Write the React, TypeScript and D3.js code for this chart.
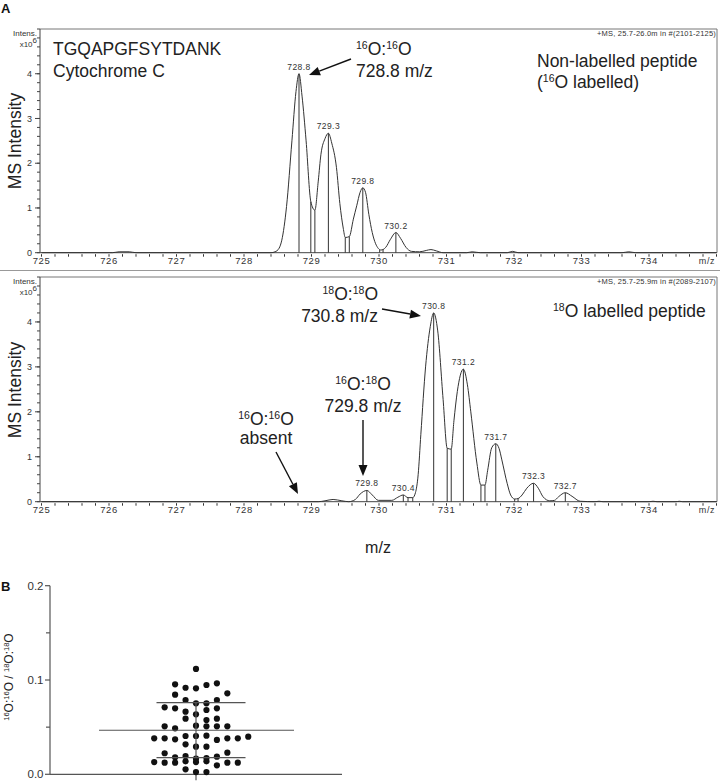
import React from 'react';
import * as d3 from 'd3';

// ---------------- DATA ----------------
const mzTicks = [725, 726, 727, 728, 729, 730, 731, 732, 733, 734];
const intensityTicks = [0, 1, 2, 3, 4];

// Top spectrum: non-labelled peptide (m/z, intensity x10^6)
const topProfileMz = [725.0, 726.05, 726.15, 726.3, 726.4, 728.4, 728.46, 728.52, 728.56, 728.63, 728.71, 728.77, 728.815, 728.86, 728.92, 728.99, 729.05, 729.1, 729.14, 729.2, 729.25, 729.3, 729.37, 729.42, 729.47, 729.5, 729.56, 729.62, 729.67, 729.72, 729.76, 729.8, 729.85, 729.9, 729.95, 730.03, 730.1, 730.17, 730.25, 730.32, 730.4, 730.48, 730.6, 730.7, 730.77, 730.85, 730.95, 731.3, 731.38, 731.5, 731.9, 731.98, 732.06, 733.6, 733.7, 733.8, 735.0];
const topProfileInt = [0, 0, 0.02, 0.02, 0, 0, 0.02, 0.1, 0.28, 1.03, 2.5, 3.6, 4.0, 3.5, 2.5, 1.14, 0.95, 1.6, 2.2, 2.55, 2.67, 2.45, 1.9, 1.1, 0.55, 0.34, 0.36, 0.75, 1.05, 1.35, 1.45, 1.35, 0.85, 0.45, 0.2, 0.06, 0.12, 0.3, 0.45, 0.32, 0.12, 0.03, 0.02, 0.05, 0.07, 0.04, 0, 0, 0.02, 0, 0, 0.03, 0, 0, 0.02, 0, 0];
const topStickMz = [728.815, 728.99, 729.05, 729.25, 729.5, 729.56, 729.76, 730.01, 730.06, 730.25];
const topStickInt = [4.0, 1.14, 0.95, 2.67, 0.34, 0.36, 1.45, 0.06, 0.08, 0.45];
const topPeakMz = [728.815, 729.25, 729.76, 730.25];
const topPeakInt = [4.0, 2.67, 1.45, 0.45];
const topPeakText = ['728.8', '729.3', '729.8', '730.2'];

// Bottom spectrum: 18O labelled peptide
const botProfileMz = [725, 729.1, 729.2, 729.32, 729.45, 729.55, 729.65, 729.72, 729.82, 729.9, 729.99, 730.19, 730.28, 730.36, 730.43, 730.5, 730.54, 730.58, 730.62, 730.69, 730.76, 730.81, 730.87, 730.95, 731.01, 731.07, 731.11, 731.16, 731.25, 731.31, 731.36, 731.45, 731.51, 731.57, 731.61, 731.67, 731.73, 731.78, 731.82, 731.9, 731.95, 732.01, 732.06, 732.12, 732.19, 732.29, 732.36, 732.43, 732.53, 732.6, 732.66, 732.76, 732.86, 732.98, 733.2, 733.26, 733.32, 734.0, 734.06, 734.12, 734.4, 734.45, 734.5, 735];
const botProfileInt = [0, 0, 0.02, 0.05, 0.02, 0, 0.05, 0.17, 0.25, 0.15, 0.03, 0.03, 0.1, 0.15, 0.09, 0.09, 0.2, 0.6, 1.5, 3.0, 3.9, 4.2, 3.8, 2.27, 1.19, 1.17, 1.8, 2.45, 2.95, 2.6, 2.0, 0.86, 0.37, 0.37, 0.7, 1.2, 1.29, 1.18, 0.93, 0.4, 0.15, 0.06, 0.07, 0.15, 0.3, 0.41, 0.3, 0.11, 0.02, 0.03, 0.11, 0.2, 0.12, 0.01, 0, 0.01, 0, 0, 0.01, 0, 0, 0.01, 0, 0];
const botStickMz = [729.82, 730.36, 730.43, 730.5, 730.81, 731.01, 731.07, 731.25, 731.51, 731.57, 731.73, 732.01, 732.06, 732.29, 732.76];
const botStickInt = [0.25, 0.15, 0.09, 0.09, 4.2, 1.19, 1.17, 2.95, 0.37, 0.37, 1.29, 0.06, 0.07, 0.41, 0.2];
const botPeakMz = [729.82, 730.36, 730.81, 731.25, 731.73, 732.29, 732.76];
const botPeakInt = [0.25, 0.15, 4.2, 2.95, 1.29, 0.41, 0.2];
const botPeakText = ['729.8', '730.4', '730.8', '731.2', '731.7', '732.3', '732.7'];

// Panel B: 16O:16O / 18O:18O ratios (value, swarm column)
const ratioValues = [0.1117, 0.0954, 0.0918, 0.0912, 0.0947, 0.0965, 0.0844, 0.0859, 0.0788, 0.0753, 0.0753, 0.0788, 0.0710, 0.0700, 0.0664, 0.0682, 0.0700, 0.0590, 0.0636, 0.0576, 0.0590, 0.0509, 0.0488, 0.0516, 0.0509, 0.0509, 0.0509, 0.0382, 0.0382, 0.0371, 0.0406, 0.0406, 0.0410, 0.0364, 0.0382, 0.0382, 0.0399, 0.0318, 0.0293, 0.0293, 0.0223, 0.0180, 0.0194, 0.0166, 0.0173, 0.0187, 0.0229, 0.0130, 0.0123, 0.0123, 0.0138, 0.0130, 0.0138, 0.0095, 0.0123, 0.0123, 0.0053, 0.0024, 0.0024];
const ratioColumns = [0, -2, -1, 0, 1, 2, -2, 3, -1, 0, 1, 2, -3, -2, -1, 1, 2, -1, 0, 1, 2, -3, -2, 0, 1, 2, 3, -4, -3, -2, -1, 0, 1, 2, 3, 4, 5, -1, 0, 1, -3, -2, -1, 0, 1, 2, 3, -4, -3, -2, -1, 0, 1, 2, 3, 4, -1, 0, 1];
const ratioMean = 0.0467;
const ratioUpper = 0.076;
const ratioLower = 0.0176;
const ratioTicks = [0, 0.1, 0.2];
const ratioMinorTicks = [0.05, 0.15];

// ---------------- HELPERS ----------------
const FONT = "'Liberation Sans', Arial, Helvetica, sans-serif";
const INK = '#222';

function Arrow({ x1, y1, x2, y2 }: { x1: number; y1: number; x2: number; y2: number }) {
  const dx = x2 - x1, dy = y2 - y1;
  const L = Math.hypot(dx, dy);
  const ux = dx / L, uy = dy / L;
  const head = 11, half = 4.5;
  const bx = x2 - ux * head, by = y2 - uy * head;
  const px = -uy, py = ux;
  return (
    <g>
      <line x1={x1} y1={y1} x2={bx} y2={by} stroke="#111" strokeWidth={1.4} />
      <polygon
        points={`${x2},${y2} ${bx + px * half},${by + py * half} ${bx - px * half},${by - py * half}`}
        fill="#111"
      />
    </g>
  );
}

function isoPair(a: string, b: string, big: number, small: number, rise: number) {
  return [
    <tspan key="a" fontSize={small} dy={-rise}>{a}</tspan>,
    <tspan key="o1" fontSize={big} dy={rise}>O</tspan>,
    <tspan key="c" fontSize={big}>:</tspan>,
    <tspan key="b" fontSize={small} dy={-rise}>{b}</tspan>,
    <tspan key="o2" fontSize={big} dy={rise}>O</tspan>,
  ];
}

type SpecProps = {
  yTop: number;
  yBottom: number;
  profMz: number[];
  profInt: number[];
  stickMz: number[];
  stickInt: number[];
  peakMz: number[];
  peakInt: number[];
  peakText: string[];
  msText: string;
  children?: (x: d3.ScaleLinear<number, number>, y: d3.ScaleLinear<number, number>) => React.ReactNode;
};

function Spectrum(p: SpecProps) {
  const x = d3.scaleLinear().domain([725, 735]).range([41.5, 716.5]);
  const y = d3.scaleLinear().domain([0, 5]).range([p.yBottom, p.yTop]);
  const pts = p.profMz.map((m, i) => [m, p.profInt[i]] as [number, number]);
  const line = d3
    .line<[number, number]>()
    .x((d) => x(d[0]))
    .y((d) => y(d[1]))
    .curve(d3.curveMonotoneX);
  const minorX = d3.range(725, 735.001, 0.2);
  const minorY = d3.range(0, 5.001, 0.2);
  const left = 40, right = 717;
  return (
    <g>
      {/* frame */}
      <line x1={left} x2={right} y1={p.yTop} y2={p.yTop} stroke="#777" />
      <line x1={right} x2={right} y1={p.yTop} y2={p.yBottom} stroke="#777" />
      {/* axes */}
      <line x1={left} x2={left} y1={p.yTop} y2={p.yBottom} stroke="#444" />
      <line x1={left} x2={right} y1={p.yBottom} y2={p.yBottom} stroke="#444" />
      {minorX.map((m, i) => (
        <line key={'mx' + i} x1={x(m)} x2={x(m)} y1={p.yBottom + 1.5} y2={p.yBottom + 4} stroke="#333" />
      ))}
      {minorY.map((v, i) => (
        <line key={'my' + i} x1={left - 3} x2={left} y1={y(v)} y2={y(v)} stroke="#444" />
      ))}
      {intensityTicks.map((v) => (
        <g key={'yt' + v}>
          <line x1={left - 5} x2={left} y1={y(v)} y2={y(v)} stroke="#444" />
          <text x={32} y={y(v)} dy="0.35em" textAnchor="end" fontSize={9} fill="#333">{v}</text>
        </g>
      ))}
      {mzTicks.map((m) => (
        <text key={'xt' + m} x={x(m)} y={p.yBottom + 11.5} textAnchor="middle" fontSize={9.5} fill="#333" letterSpacing={0.5}>{m}</text>
      ))}
      <text x={707} y={p.yBottom + 11.5} textAnchor="middle" fontSize={9} fill="#333" letterSpacing={0.6}>m/z</text>
      <text x={37} y={p.yTop + 6.5} textAnchor="end" fontSize={8} fill="#333">Intens.</text>
      <text x={37} y={p.yTop + 18} textAnchor="end" fontSize={8} fill="#333">
        x10<tspan fontSize={8} dy={-4}>6</tspan>
      </text>
      <text x={716} y={p.yTop + 7} textAnchor="end" fontSize={7.5} fill="#333" letterSpacing={0.2}>{p.msText}</text>
      {/* sticks */}
      {p.stickMz.map((m, i) => (
        <line key={'st' + i} x1={x(m)} x2={x(m)} y1={p.yBottom} y2={y(p.stickInt[i])} stroke="#333" strokeWidth={1} />
      ))}
      {/* profile */}
      <path d={line(pts) || ''} fill="none" stroke="#333" strokeWidth={1} />
      {p.peakMz.map((m, i) => (
        <text key={'pl' + i} x={x(m)} y={y(p.peakInt[i]) - 4} textAnchor="middle" fontSize={8.5} fill="#333" letterSpacing={0.4}>{p.peakText[i]}</text>
      ))}
      {p.children && p.children(x, y)}
    </g>
  );
}

function PanelB() {
  const y = d3.scaleLinear().domain([0, 0.2]).range([774.3, 585.7]);
  const band = d3.scalePoint<string>().domain(['ratio']).range([50, 342]).padding(0.5);
  const cx0 = band('ratio') as number;
  const col = d3.scaleLinear().domain([0, 1]).range([cx0, cx0 + 10.45]);
  return (
    <g>
      <line x1={50} x2={50} y1={y(0)} y2={y(0.2)} stroke="#555" strokeWidth={1.2} />
      <line x1={50} x2={342} y1={y(0)} y2={y(0)} stroke="#555" strokeWidth={1.2} />
      <line x1={cx0} x2={cx0} y1={y(0)} y2={y(0) + 6} stroke="#555" strokeWidth={1.2} />
      {ratioTicks.map((t) => (
        <g key={'rt' + t}>
          <line x1={45} x2={50} y1={y(t)} y2={y(t)} stroke="#555" strokeWidth={1.2} />
          <text x={43.5} y={y(t)} dy="0.36em" textAnchor="end" fontSize={11.5} fill="#333">{t.toFixed(1)}</text>
        </g>
      ))}
      {ratioMinorTicks.map((t) => (
        <line key={'rm' + t} x1={46} x2={50} y1={y(t)} y2={y(t)} stroke="#555" strokeWidth={1.2} />
      ))}
      {ratioValues.map((v, i) => (
        <circle key={'d' + i} cx={col(ratioColumns[i])} cy={y(v)} r={3.1} fill="#111" />
      ))}
      <line x1={cx0 - 97} x2={cx0 + 98} y1={y(ratioMean)} y2={y(ratioMean)} stroke="#555" strokeWidth={1.2} />
      <line x1={cx0 - 39.5} x2={cx0 + 49.5} y1={y(ratioUpper)} y2={y(ratioUpper)} stroke="#555" strokeWidth={1.2} />
      <line x1={cx0 - 39.5} x2={cx0 + 49.5} y1={y(ratioLower)} y2={y(ratioLower)} stroke="#555" strokeWidth={1.2} />
      <line x1={cx0} x2={cx0} y1={y(ratioUpper)} y2={y(ratioLower)} stroke="#555" strokeWidth={1.2} />
      <text transform="translate(13,677) rotate(-90)" textAnchor="middle" fill="#222">
        {isoPair('16', '16', 12, 7.5, 4.5)}
        <tspan fontSize={12}> / </tspan>
        {isoPair('18', '18', 12, 7.5, 4.5)}
      </text>
      <text x={1} y={591} fontSize={13} fontWeight="bold" fill="#111">B</text>
    </g>
  );
}

export default function App() {
  const big = 17.5, small = 10.5, rise = 6;
  return (
    <svg width={720} height={782} style={{ position: 'absolute', left: 0, top: 0, display: 'block', background: '#fff' }} fontFamily={FONT}>
      <rect x={0} y={0} width={720} height={782} fill="#fff" />
      <text x={1} y={13} fontSize={13} fontWeight="bold" fill="#111">A</text>

      <Spectrum
        yTop={29}
        yBottom={252.7}
        profMz={topProfileMz}
        profInt={topProfileInt}
        stickMz={topStickMz}
        stickInt={topStickInt}
        peakMz={topPeakMz}
        peakInt={topPeakInt}
        peakText={topPeakText}
        msText="+MS, 25.7-26.0m in #(2101-2125)"
      />
      <line x1={0} x2={720} y1={270.5} y2={270.5} stroke="#999" strokeWidth={1} />
      <Spectrum
        yTop={277}
        yBottom={501.7}
        profMz={botProfileMz}
        profInt={botProfileInt}
        stickMz={botStickMz}
        stickInt={botStickInt}
        peakMz={botPeakMz}
        peakInt={botPeakInt}
        peakText={botPeakText}
        msText="+MS, 25.7-25.9m in #(2089-2107)"
      />

      {/* Y titles */}
      <text transform="translate(21,141) rotate(-90)" textAnchor="middle" fontSize={17.5} fill={INK}>MS Intensity</text>
      <text transform="translate(21,390) rotate(-90)" textAnchor="middle" fontSize={17.5} fill={INK}>MS Intensity</text>
      <text x={378} y={553} textAnchor="middle" fontSize={16} fill={INK}>m/z</text>

      {/* Top annotations */}
      <text x={53} y={55} fontSize={big} fill={INK}>TGQAPGFSYTDANK</text>
      <text x={53} y={77} fontSize={big} fill={INK}>Cytochrome C</text>
      <text x={356} y={55} fill={INK}>{isoPair('16', '16', big, small, rise)}</text>
      <text x={356} y={77} fontSize={big} fill={INK}>728.8 m/z</text>
      <Arrow x1={351} y1={59} x2={309} y2={75} />
      <text x={537} y={67} fontSize={big} fill={INK}>Non-labelled peptide</text>
      <text x={537} y={88} fontSize={big} fill={INK}>
        (<tspan fontSize={small} dy={-rise}>16</tspan><tspan dy={rise}>O labelled)</tspan>
      </text>

      {/* Bottom annotations */}
      <text x={378} y={300} textAnchor="end" fill={INK}>{isoPair('18', '18', big, small, rise)}</text>
      <text x={378} y={322} textAnchor="end" fontSize={big} fill={INK}>730.8 m/z</text>
      <Arrow x1={382} y1={309} x2={421} y2={316} />
      <text x={553} y={317} fontSize={big} fill={INK}>
        <tspan fontSize={small} dy={-rise}>18</tspan><tspan dy={rise}>O labelled peptide</tspan>
      </text>
      <text x={363} y={390} textAnchor="middle" fill={INK}>{isoPair('16', '18', big, small, rise)}</text>
      <text x={363} y={412} textAnchor="middle" fontSize={big} fill={INK}>729.8 m/z</text>
      <Arrow x1={363} y1={420} x2={363} y2={476} />
      <text x={266} y={425} textAnchor="middle" fill={INK}>{isoPair('16', '16', big, small, rise)}</text>
      <text x={266} y={444} textAnchor="middle" fontSize={big} fill={INK}>absent</text>
      <Arrow x1={276} y1={452} x2={298} y2={494} />

      <PanelB />
    </svg>
  );
}
